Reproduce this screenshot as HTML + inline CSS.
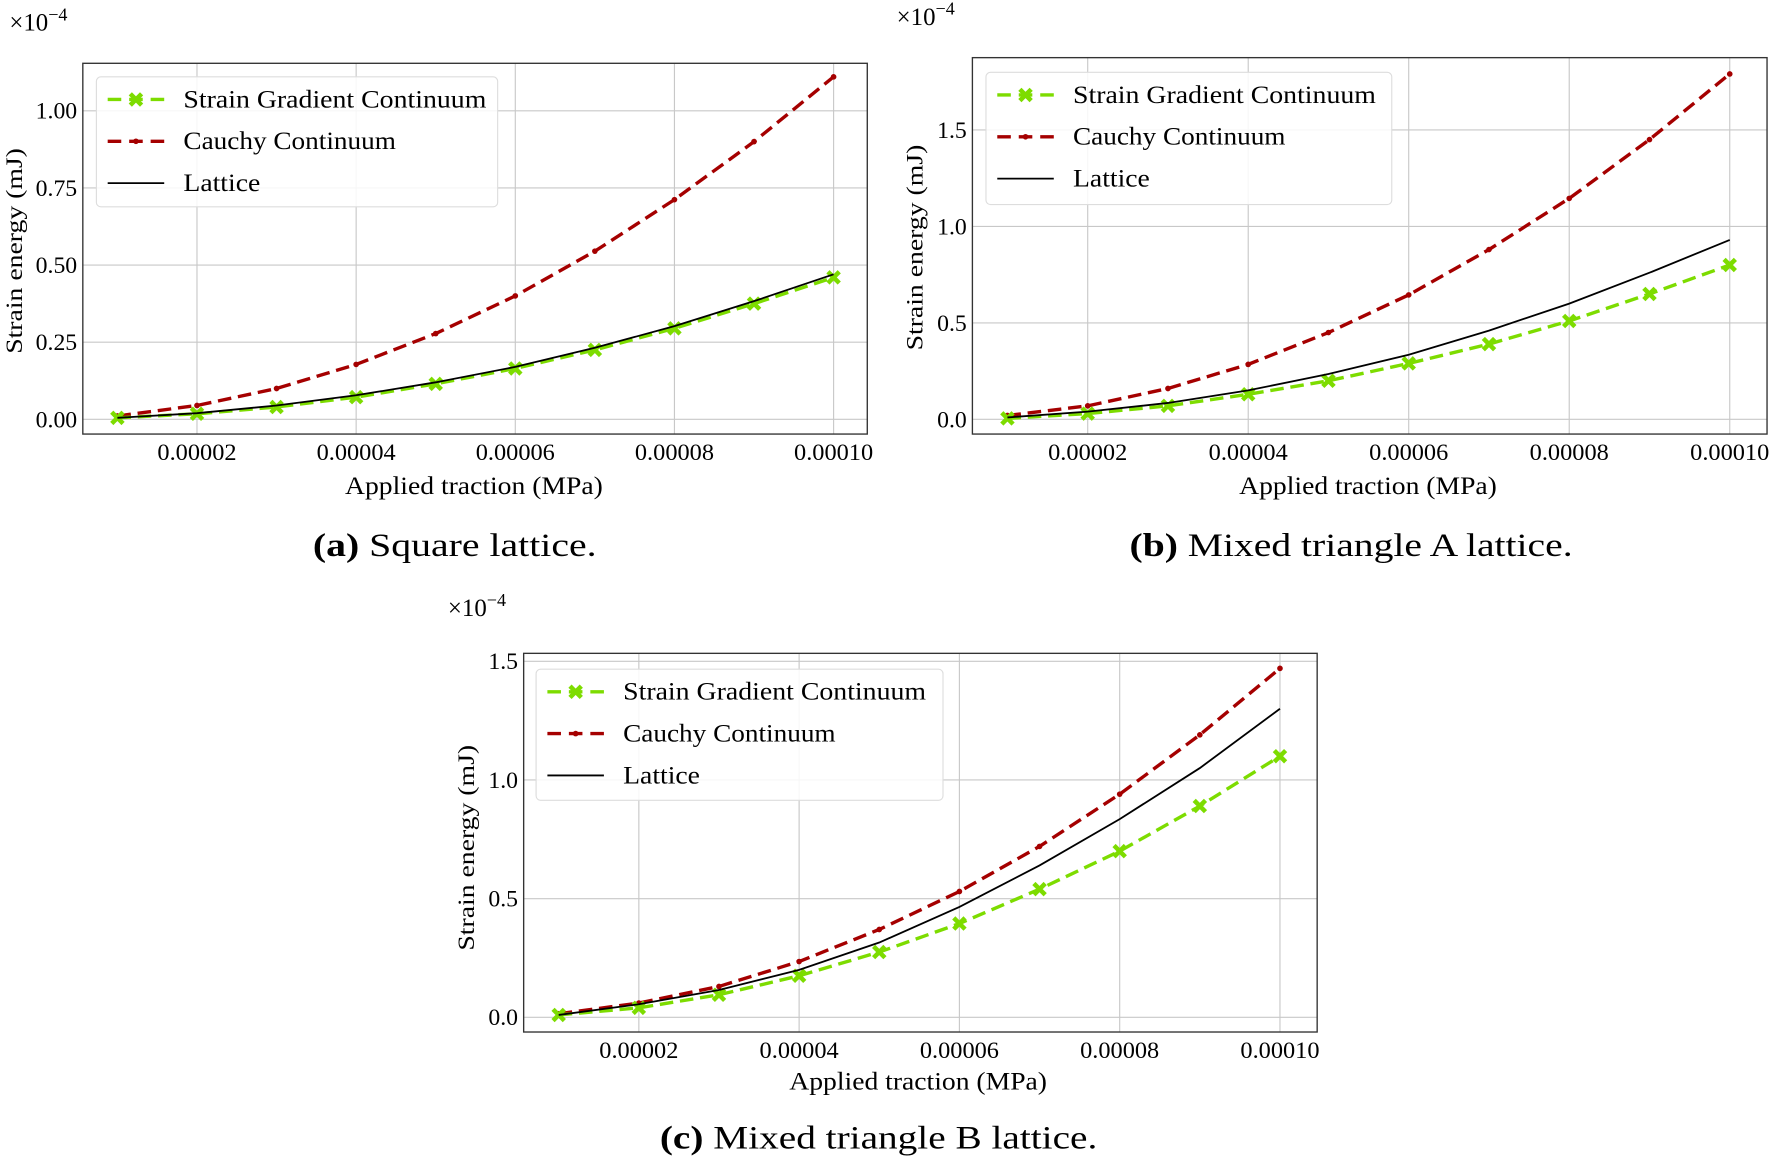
<!DOCTYPE html>
<html><head><meta charset="utf-8"><style>
html,body{margin:0;padding:0;background:#fff;}
svg{display:block;font-family:"Liberation Serif",serif;}
</style></head><body>
<svg id="fig" width="1773" height="1162" viewBox="0 0 1568 1028" xmlns="http://www.w3.org/2000/svg"></svg>
<script>
const xVals=[0.00001,0.00002,0.00003,0.00004,0.00005,0.00006,0.00007,0.00008,0.00009,0.0001];
const xTicks=[0.00002,0.00004,0.00006,0.00008,0.0001];
const xTickLabels=["0.00002","0.00004","0.00006","0.00008","0.00010"];
const aSG=[0.005,0.018,0.04,0.072,0.115,0.165,0.225,0.295,0.375,0.46];
const aLat=[0.005,0.02,0.045,0.078,0.12,0.17,0.232,0.302,0.383,0.47];
const aCau=[0.011,0.045,0.1,0.178,0.278,0.4,0.545,0.712,0.9,1.11];
const aYTicks=[0,0.25,0.5,0.75,1.0];
const aYLabels=["0.00","0.25","0.50","0.75","1.00"];
const bSG=[0.005,0.03,0.07,0.13,0.2,0.29,0.39,0.51,0.65,0.8];
const bLat=[0.01,0.04,0.085,0.15,0.235,0.335,0.46,0.6,0.76,0.93];
const bCau=[0.02,0.07,0.16,0.285,0.45,0.645,0.88,1.145,1.45,1.79];
const bYTicks=[0,0.5,1.0,1.5];
const bYLabels=["0.0","0.5","1.0","1.5"];
const cSG=[0.01,0.04,0.095,0.175,0.275,0.395,0.54,0.7,0.89,1.1];
const cLat=[0.01,0.055,0.115,0.2,0.315,0.465,0.64,0.835,1.05,1.3];
const cCau=[0.015,0.06,0.13,0.235,0.37,0.53,0.72,0.94,1.19,1.47];
const cYTicks=[0,0.5,1.0,1.5];
const cYLabels=["0.0","0.5","1.0","1.5"];

const NS="http://www.w3.org/2000/svg";
const svg=document.getElementById('fig');
function mk(tag,attrs,parent,text){const e=document.createElementNS(NS,tag);for(const k in attrs)e.setAttribute(k,attrs[k]);if(text!==undefined)e.textContent=text;(parent||svg).appendChild(e);return e;}
const GREEN="#7ddc00",RED="#a50000";

function panel(id,cfg,sg,lat,cau,yT,yL){
  const g=mk('g',{});
  
  
  const X=v=>cfg.x0+(v-0.00001)*cfg.xs/0.00001;
  const Y=v=>cfg.y0-v*cfg.ys;
  xTicks.forEach((t,i)=>{
    const l=mk('line',{x1:X(t),x2:X(t),y1:cfg.top,y2:cfg.bot,stroke:'#c8c8c8','stroke-width':1},g);
    
    const tx=mk('text',{x:X(t),y:cfg.bot+23,'text-anchor':'middle','font-size':21,textLength:70,lengthAdjust:'spacingAndGlyphs'},g,xTickLabels[i]);
    
  });
  yT.forEach((t,i)=>{
    const l=mk('line',{x1:cfg.left,x2:cfg.right,y1:Y(t),y2:Y(t),stroke:'#c8c8c8','stroke-width':1},g);
    
    const tx=mk('text',{x:cfg.left-5,y:Y(t)+7,'text-anchor':'end','font-size':21},g,yL[i]);
    
  });
  const box=mk('rect',{x:cfg.left,y:cfg.top,width:cfg.right-cfg.left,height:cfg.bot-cfg.top,fill:'none',stroke:'#333','stroke-width':1.2},g);
  
  const pts=a=>a.map((v,i)=>X(xVals[i])+','+Y(v)).join(' ');
  const pc=mk('polyline',{points:pts(cau),fill:'none',stroke:RED,'stroke-width':3,'stroke-dasharray':'12,6'},g);
  
  cau.forEach((v,i)=>{const c=mk('circle',{cx:X(xVals[i]),cy:Y(v),r:2.5,fill:RED},g);
    });
  const ps=mk('polyline',{points:pts(sg),fill:'none',stroke:GREEN,'stroke-width':3,'stroke-dasharray':'12,6'},g);
  
  sg.forEach((v,i)=>{const x=X(xVals[i]),y=Y(v);
    const m=mk('path',{d:`M${x-5},${y-5}L${x+5},${y+5}M${x-5},${y+5}L${x+5},${y-5}`,stroke:GREEN,'stroke-width':4},g);
    });
  const pl=mk('polyline',{points:pts(lat),fill:'none',stroke:'#000','stroke-width':1.6},g);
  
  const L=cfg.leg;
  const lg=mk('g',{},g);
  
  mk('rect',{x:L.x,y:L.y,width:L.w,height:L.h,rx:4,fill:'rgba(255,255,255,0.85)',stroke:'#ddd','stroke-width':1},lg);
  const entries=[["Strain Gradient Continuum",GREEN,'dash-x',268],["Cauchy Continuum",RED,'dash-dot',188],["Lattice","#000",'solid',68]];
  entries.forEach((e,i)=>{
    const ey=L.y+20+i*37, lx=L.x+10;
    const eg=mk('g',{},lg);
    
    if(e[2]==='solid') mk('line',{x1:lx,x2:lx+50,y1:ey,y2:ey,stroke:'#000','stroke-width':1.6},eg);
    else mk('line',{x1:lx,x2:lx+50,y1:ey,y2:ey,stroke:e[1],'stroke-width':3,'stroke-dasharray':'12,7'},eg);
    if(e[2]==='dash-x') mk('path',{d:`M${lx+20},${ey-5}L${lx+30},${ey+5}M${lx+20},${ey+5}L${lx+30},${ey-5}`,stroke:GREEN,'stroke-width':4},eg);
    if(e[2]==='dash-dot') mk('circle',{cx:lx+25,cy:ey,r:2.5,fill:RED},eg);
    mk('text',{x:lx+67,y:ey+7,'font-size':22,textLength:e[3],lengthAdjust:'spacingAndGlyphs'},eg,e[0]);
  });
  const mult=mk('text',{x:cfg.mult[0],y:cfg.mult[1],'font-size':22},g);
  
  mult.innerHTML='×10<tspan dy="-9" font-size="16">−4</tspan>';
  const yl=mk('text',{x:0,y:0,transform:`translate(${cfg.yl[0]},${cfg.yl[1]}) rotate(-90)`,'text-anchor':'middle','font-size':21,textLength:182,lengthAdjust:'spacingAndGlyphs'},g,'Strain energy (mJ)');
  
  const xl=mk('text',{x:cfg.xl[0],y:cfg.xl[1],'text-anchor':'middle','font-size':22,textLength:228,lengthAdjust:'spacingAndGlyphs'},g,'Applied traction (MPa)');
  
  const cap=mk('text',{x:cfg.cap[0],y:cfg.cap[1],'text-anchor':'middle','font-size':29,textLength:cfg.capW,lengthAdjust:'spacingAndGlyphs'},g);
  
  cap.innerHTML='<tspan font-weight="bold">('+cfg.capL+')</tspan> '+cfg.capT;
}
panel('panel-a',{left:73,right:767,top:56,bot:384,x0:103.6,xs:70.4,y0:371,ys:273,
  leg:{x:85,y:68,w:355,h:115},mult:[8,27],yl:[19,222],xl:[419,437],cap:[402,492],capW:251,capL:'a',capT:'Square lattice.'},aSG,aLat,aCau,aYTicks,aYLabels);
panel('panel-b',{left:860,right:1563,top:51,bot:384,x0:891,xs:71,y0:371,ys:170.7,
  leg:{x:872,y:64,w:359,h:117},mult:[793,22],yl:[816,219],xl:[1210,437],cap:[1195,492],capW:392,capL:'b',capT:'Mixed triangle A lattice.'},bSG,bLat,bCau,bYTicks,bYLabels);
panel('panel-c',{left:463,right:1165,top:578,bot:913,x0:494,xs:70.9,y0:900,ys:210,
  leg:{x:474,y:592,w:360,h:116},mult:[396,545],yl:[419,750],xl:[812,964],cap:[777,1016],capW:387,capL:'c',capT:'Mixed triangle B lattice.'},cSG,cLat,cCau,cYTicks,cYLabels);
</script>
</body></html>
